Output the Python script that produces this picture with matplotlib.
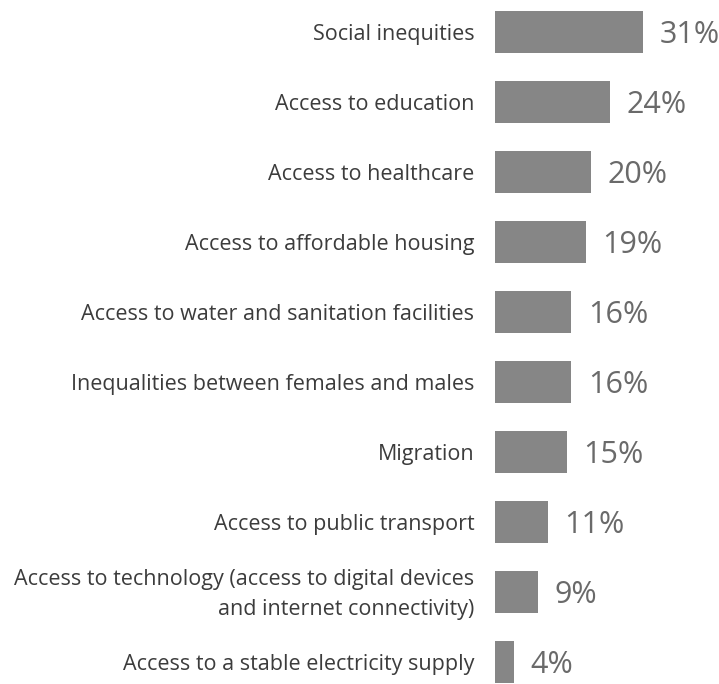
import matplotlib
matplotlib.use("Agg")
import matplotlib.pyplot as plt

categories = [
    "Social inequities",
    "Access to education",
    "Access to healthcare",
    "Access to affordable housing",
    "Access to water and sanitation facilities",
    "Inequalities between females and males",
    "Migration",
    "Access to public transport",
    "Access to technology (access to digital devices\nand internet connectivity)",
    "Access to a stable electricity supply",
]
values = [31, 24, 20, 19, 16, 16, 15, 11, 9, 4]
value_labels = [f"{v}%" for v in values]

plt.rcParams['font.family'] = ['Open Sans', 'DejaVu Sans']

W, H = 719, 684
fig = plt.figure(figsize=(W / 100, H / 100), dpi=100)
ax = fig.add_axes([495 / W, 0, 1 - 495 / W, 1])

pos = list(range(len(categories)))
ax.barh(pos, values, height=0.614, color="#868686")
ax.set_ylim(9 + 22 / 70, -32 / 70)
ax.set_xlim(0, (W - 495) / 4.78)

for p, v, lab, cat in zip(pos, values, value_labels, categories):
    ax.annotate(lab, (v, p), xytext=(12, -2), textcoords="offset points",
                va="center", ha="left", fontsize=22, color="#6a6a6a")
    ax.annotate(cat, (0, p), xytext=(-15, -2), textcoords="offset points",
                va="center", ha="right", fontsize=15.5, color="#3c3c3c",
                multialignment="right", linespacing=1.55, annotation_clip=False)

ax.axis("off")
fig.savefig("out.png", dpi=100)
